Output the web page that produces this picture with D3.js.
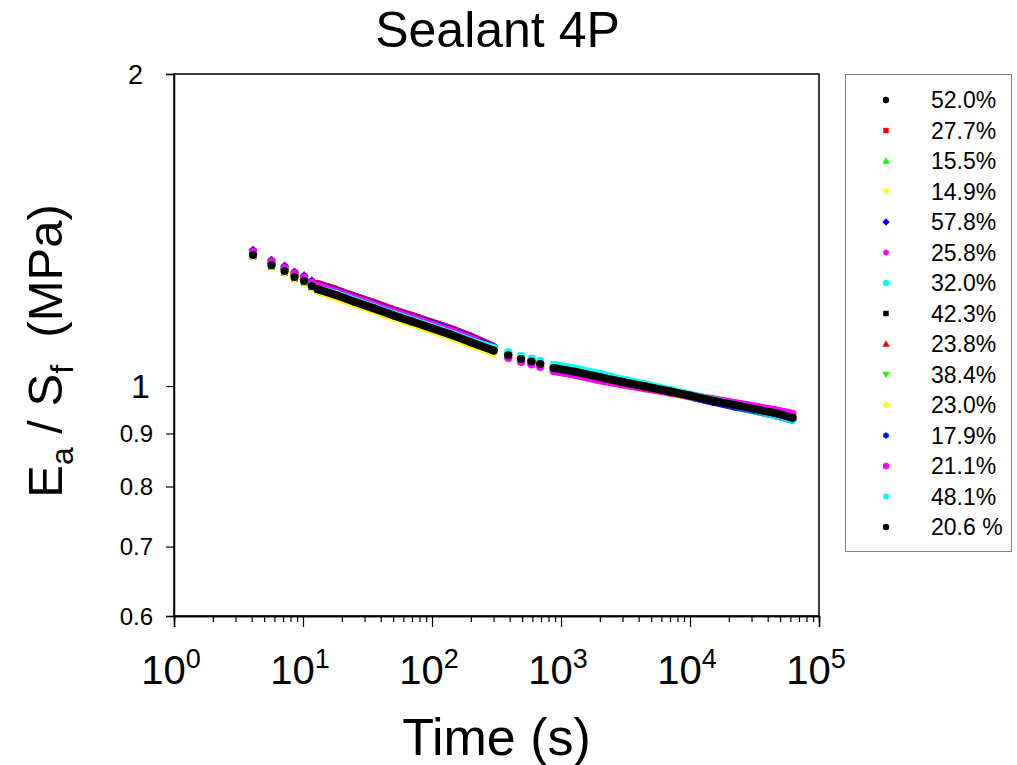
<!DOCTYPE html>
<html><head><meta charset="utf-8">
<script src="https://cdn.jsdelivr.net/npm/d3@7"></script>
<style>html,body{margin:0;padding:0;background:#fff;} svg{display:block;font-family:"Liberation Sans",Arial,sans-serif;}</style>
</head><body>
<script>
// ---- data ----
const times = [4.1,5.7,7.2,8.6,10.2,11.7,13,18,25,35,50,70,100,140,200,300,390,490,590,690,880,1300,2000,3000,4500,7000,10000,15000,22000,32000,45000,62000];
const seriesLabels = ["52.0%","27.7%","15.5%","14.9%","57.8%","25.8%","32.0%","42.3%","23.8%","38.4%","23.0%","17.9%","21.1%","48.1%","20.6 %"];
const seriesColors = ["#000000","#ff0000","#00ff00","#ffff00","#0000ff","#ff00ff","#00ffff","#000000","#ff0000","#00ff00","#ffff00","#0000ff","#ff00ff","#00ffff","#000000"];
const seriesSymbols = ["circle","square","triUp","triDown","diamond","hexagon","circle","square","triUp","triDown","diamond","hexagon","circle","square","circle"];
const s520 = [1.341,1.311,1.294,1.277,1.266,1.252,1.243,1.227,1.209,1.192,1.173,1.157,1.140,1.124,1.105,1.084,1.071,1.062,1.056,1.050,1.041,1.032,1.020,1.009,0.999,0.988,0.979,0.969,0.960,0.951,0.943,0.934];
const s277 = [1.349,1.319,1.302,1.285,1.274,1.260,1.251,1.235,1.217,1.200,1.181,1.165,1.148,1.132,1.113,1.088,1.073,1.062,1.056,1.050,1.041,1.032,1.020,1.009,0.999,0.987,0.978,0.968,0.959,0.950,0.941,0.932];
const s155 = [1.344,1.314,1.297,1.280,1.269,1.255,1.246,1.230,1.212,1.195,1.176,1.160,1.143,1.127,1.108,1.085,1.071,1.062,1.056,1.050,1.041,1.032,1.020,1.009,0.999,0.988,0.979,0.969,0.960,0.951,0.943,0.934];
const s149 = [1.333,1.303,1.286,1.269,1.258,1.244,1.235,1.219,1.201,1.184,1.165,1.149,1.132,1.116,1.097,1.077,1.066,1.057,1.051,1.045,1.036,1.027,1.015,1.006,0.997,0.987,0.979,0.969,0.961,0.953,0.946,0.938];
const s578 = [1.352,1.322,1.305,1.288,1.277,1.263,1.254,1.238,1.220,1.203,1.184,1.168,1.151,1.135,1.116,1.091,1.073,1.064,1.058,1.052,1.043,1.034,1.022,1.010,0.999,0.987,0.977,0.966,0.956,0.947,0.938,0.928];
const s258 = [1.347,1.317,1.300,1.283,1.272,1.258,1.249,1.233,1.215,1.198,1.179,1.163,1.146,1.130,1.111,1.084,1.066,1.057,1.051,1.045,1.036,1.027,1.015,1.006,0.997,0.987,0.979,0.971,0.963,0.955,0.948,0.940];
const s320 = [1.344,1.314,1.297,1.280,1.269,1.255,1.246,1.230,1.212,1.195,1.176,1.160,1.143,1.127,1.108,1.090,1.078,1.069,1.063,1.057,1.048,1.039,1.027,1.014,1.003,0.990,0.980,0.968,0.958,0.947,0.938,0.928];
const s423 = [1.335,1.305,1.288,1.271,1.260,1.246,1.237,1.221,1.203,1.186,1.167,1.151,1.134,1.118,1.099,1.080,1.069,1.060,1.054,1.048,1.039,1.030,1.018,1.007,0.997,0.987,0.978,0.968,0.959,0.951,0.943,0.934];
const s238 = [1.352,1.322,1.305,1.288,1.277,1.263,1.254,1.238,1.220,1.203,1.184,1.168,1.151,1.135,1.116,1.091,1.073,1.064,1.058,1.052,1.043,1.034,1.022,1.011,1.001,0.990,0.980,0.970,0.961,0.951,0.943,0.934];
const s384 = [1.342,1.312,1.294,1.277,1.266,1.252,1.243,1.227,1.209,1.192,1.173,1.157,1.140,1.124,1.105,1.084,1.071,1.062,1.056,1.050,1.041,1.032,1.020,1.009,0.999,0.988,0.979,0.969,0.960,0.951,0.943,0.934];
const s230 = [1.333,1.303,1.286,1.269,1.258,1.244,1.235,1.219,1.201,1.184,1.165,1.149,1.132,1.116,1.097,1.076,1.064,1.055,1.049,1.043,1.034,1.025,1.013,1.004,0.995,0.985,0.977,0.969,0.961,0.953,0.946,0.938];
const s179 = [1.349,1.319,1.302,1.285,1.274,1.260,1.251,1.235,1.217,1.200,1.181,1.165,1.148,1.132,1.113,1.088,1.073,1.062,1.056,1.050,1.041,1.032,1.020,1.009,0.998,0.987,0.978,0.967,0.958,0.948,0.940,0.930];
const s211 = [1.347,1.317,1.300,1.283,1.272,1.258,1.249,1.233,1.215,1.198,1.179,1.163,1.146,1.130,1.111,1.083,1.064,1.055,1.049,1.043,1.034,1.025,1.013,1.004,0.995,0.986,0.978,0.970,0.962,0.955,0.948,0.940];
const s481 = [1.338,1.308,1.291,1.274,1.263,1.249,1.240,1.227,1.209,1.192,1.173,1.157,1.140,1.124,1.105,1.088,1.078,1.069,1.063,1.057,1.048,1.039,1.027,1.014,1.003,0.991,0.981,0.969,0.959,0.949,0.940,0.930];
const s206 = [1.338,1.308,1.291,1.274,1.263,1.249,1.240,1.224,1.206,1.189,1.170,1.154,1.137,1.121,1.102,1.082,1.071,1.062,1.056,1.050,1.041,1.032,1.020,1.009,0.999,0.988,0.979,0.968,0.959,0.950,0.942,0.932];
const seriesValues = [s520,s277,s155,s149,s578,s258,s320,s423,s238,s384,s230,s179,s211,s481,s206];
const xMajorTicks = [1,10,100,1000,10000,100000];
const xTickExp = ["0","1","2","3","4","5"];
const yTicks = [0.6,0.7,0.8,0.9,1,2];
const yTickLabels = ["0.6","0.7","0.8","0.9","1","2"];
// index ranges drawn as dense bands (markers nearly touching in the original)
const denseRuns = [[6,15],[20,31]];

// ---- layout ----
const W = 1017, H = 765;
const L = 174, R = 819, T = 74, B = 616;
const svg = d3.select("body").append("svg").attr("width", W).attr("height", H);
const x = d3.scaleLog().domain([1, 1e5]).range([L, R]);
const y = d3.scaleLog().domain([0.6, 2]).range([B, T]);

function symPath(type, r) {
  const p = d3.path();
  if (type === "circle") { p.moveTo(r, 0); p.arc(0, 0, r, 0, 2 * Math.PI); }
  else if (type === "square") { const s = r * 0.85; p.rect(-s, -s, 2 * s, 2 * s); }
  else if (type === "triUp") { const s = r * 1.15; p.moveTo(0, -s); p.lineTo(s, s * 0.75); p.lineTo(-s, s * 0.75); p.closePath(); }
  else if (type === "triDown") { const s = r * 1.15; p.moveTo(0, s); p.lineTo(s, -s * 0.75); p.lineTo(-s, -s * 0.75); p.closePath(); }
  else if (type === "diamond") { const s = r * 1.15; p.moveTo(0, -s); p.lineTo(s, 0); p.lineTo(0, s); p.lineTo(-s, 0); p.closePath(); }
  else if (type === "hexagon") { for (let i = 0; i < 6; i++) { const a = Math.PI / 6 + i * Math.PI / 3; const px = r * Math.cos(a), py = r * Math.sin(a); if (i === 0) p.moveTo(px, py); else p.lineTo(px, py); } p.closePath(); }
  return p.toString();
}

// ---- plot frame ----
svg.append("rect").attr("x", L).attr("y", T).attr("width", R - L).attr("height", B - T)
  .attr("fill", "none").attr("stroke", "#000").attr("stroke-width", 1.5);

// ---- data ----
const plot = svg.append("g");
const line = d3.line().x(d => x(d[0])).y(d => y(d[1]));
const markerR = 4;
seriesValues.forEach((vals, si) => {
  const pts = times.map((t, i) => [t, vals[i]]);
  const g = plot.append("g");
  denseRuns.forEach(([a, b]) => {
    g.append("path").attr("d", line(pts.slice(a, b + 1)))
      .attr("fill", "none").attr("stroke", seriesColors[si])
      .attr("stroke-width", markerR * 2).attr("stroke-linecap", "round").attr("stroke-linejoin", "round");
  });
  g.selectAll("path.m").data(pts).enter().append("path").attr("class", "m")
    .attr("transform", d => `translate(${x(d[0])},${y(d[1])})`)
    .attr("d", symPath(seriesSymbols[si], markerR))
    .attr("fill", seriesColors[si]);
});

// ---- axes ----
const minorX = [];
for (let e = 0; e < 5; e++) for (let k = 2; k <= 9; k++) minorX.push(k * Math.pow(10, e));
const gxMinor = svg.append("g").attr("transform", `translate(0,${B})`)
  .call(d3.axisBottom(x).tickValues(minorX).tickSize(6).tickFormat(""));
const gxMajor = svg.append("g").attr("transform", `translate(0,${B})`)
  .call(d3.axisBottom(x).tickValues(xMajorTicks).tickSize(11).tickFormat(""));
[gxMinor, gxMajor].forEach(g => { g.select(".domain").attr("stroke-width", 1.5); g.selectAll(".tick line").attr("stroke-width", 1.2); });

const xl = svg.append("g");
xMajorTicks.forEach((v, i) => {
  const t = xl.append("text").attr("x", x(v) - 3).attr("y", 684).attr("text-anchor", "middle")
    .attr("font-size", 40).attr("fill", "#000");
  t.append("tspan").text("10");
  t.append("tspan").attr("dy", -16).attr("font-size", 27).text(xTickExp[i]);
});

const gy = svg.append("g").attr("transform", `translate(${L},0)`)
  .call(d3.axisLeft(y).tickValues(yTicks).tickSize(8).tickFormat(""));
gy.select(".domain").attr("stroke-width", 1.5);
gy.selectAll(".tick line").attr("stroke-width", 1.2);
yTicks.forEach((v, i) => {
  svg.append("text").attr("x", v === 2 ? 143 : (v === 1 ? 150 : 153)).attr("y", y(v)).attr("dy", "0.36em")
    .attr("text-anchor", "end").attr("font-size", v === 1 ? 34 : (v === 2 ? 27 : 24)).attr("fill", "#000")
    .text(yTickLabels[i]);
});

// ---- titles ----
svg.append("text").attr("x", (L + R) / 2 + 1).attr("y", 47).attr("text-anchor", "middle")
  .attr("font-size", 50).attr("fill", "#000").text("Sealant 4P");
svg.append("text").attr("x", (L + R) / 2).attr("y", 755).attr("text-anchor", "middle")
  .attr("font-size", 52).attr("fill", "#000").text("Time (s)");
const yt = svg.append("text").attr("transform", `translate(62,${(T + B) / 2 + 6}) rotate(-90)`)
  .attr("text-anchor", "middle").attr("font-size", 49).attr("fill", "#000");
yt.append("tspan").text("E");
yt.append("tspan").attr("font-size", 32).attr("dy", 11).text("a");
yt.append("tspan").attr("dy", -11).text(" / S");
yt.append("tspan").attr("font-size", 32).attr("dy", 11).text("f");
yt.append("tspan").attr("dy", -11).attr("xml:space", "preserve").text("  (MPa)");

// ---- legend ----
const lg = svg.append("g");
lg.append("rect").attr("x", 845.5).attr("y", 74.5).attr("width", 166).attr("height", 477)
  .attr("fill", "#fff").attr("stroke", "#808080").attr("stroke-width", 1);
seriesLabels.forEach((lab, i) => {
  const cy = 100 + i * 30.5;
  lg.append("path").attr("transform", `translate(886,${cy})`).attr("d", symPath(seriesSymbols[i], 3.2))
    .attr("fill", seriesColors[i]);
  lg.append("text").attr("x", 931).attr("y", cy).attr("dy", "0.36em").attr("font-size", 23)
    .attr("fill", "#000").text(lab);
});
</script>
</body></html>
